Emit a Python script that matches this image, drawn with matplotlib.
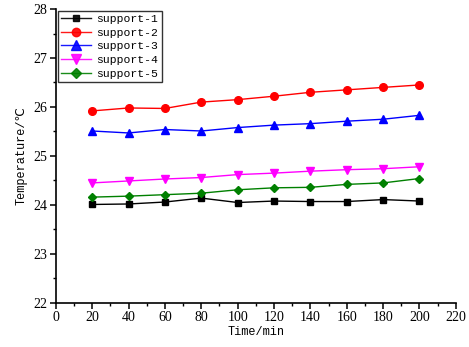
import matplotlib
matplotlib.use("Agg")
import matplotlib.pyplot as plt
from matplotlib.ticker import MultipleLocator

time = [20, 40, 60, 80, 100, 120, 140, 160, 180, 200]
support1 = [24.01, 24.02, 24.06, 24.14, 24.05, 24.08, 24.07, 24.07, 24.11, 24.08]
support2 = [25.92, 25.98, 25.97, 26.10, 26.15, 26.22, 26.30, 26.35, 26.40, 26.45]
support3 = [25.51, 25.47, 25.54, 25.51, 25.58, 25.63, 25.66, 25.71, 25.75, 25.83]
support4 = [24.45, 24.49, 24.53, 24.56, 24.62, 24.65, 24.69, 24.72, 24.74, 24.78]
support5 = [24.16, 24.18, 24.21, 24.24, 24.31, 24.35, 24.36, 24.42, 24.45, 24.54]
names = ["support-1", "support-2", "support-3", "support-4", "support-5"]

colors = ["black", "red", "blue", "magenta", "green"]
markers = ["s", "o", "^", "v", "D"]
sizes = [4.5, 5.5, 6, 6, 4.3]

mono = ["Liberation Mono", "DejaVu Sans"]
serif = "Liberation Serif"

fig = plt.figure(figsize=(4.69, 3.47), dpi=100)
ax = fig.add_axes([0.119, 0.127, 0.853, 0.847])

series = [support1, support2, support3, support4, support5]
for vals, name, c, m, s in zip(series, names, colors, markers, sizes):
    ax.plot(time, vals, color=c, marker=m, markersize=s, lw=1.0,
            markeredgecolor=c, label=name)

ax.set_xlim(0, 220)
ax.set_ylim(22, 28)
ax.xaxis.set_major_locator(MultipleLocator(20))
ax.xaxis.set_minor_locator(MultipleLocator(10))
ax.yaxis.set_major_locator(MultipleLocator(1))
ax.yaxis.set_minor_locator(MultipleLocator(0.5))
ax.spines["top"].set_visible(False)
ax.spines["right"].set_visible(False)
ax.spines["left"].set_linewidth(1.2)
ax.spines["bottom"].set_linewidth(1.2)
ax.tick_params(which="major", direction="out", length=4, width=1.1, pad=2)
ax.tick_params(which="minor", direction="out", length=2, width=1.0)
for lab in ax.get_xticklabels() + ax.get_yticklabels():
    lab.set_fontfamily(serif)
    lab.set_fontsize(10)

ax.set_xlabel("Time/min", family=mono, fontsize=8.6, labelpad=1)
ax.set_ylabel("Temperature/℃", family=mono, fontsize=8.6, labelpad=4)

leg = ax.legend(loc="upper left", prop={"family": mono, "size": 8.2},
                frameon=True, fancybox=False, edgecolor="black",
                borderaxespad=0.15, handlelength=2.6, labelspacing=0.32,
                borderpad=0.3, handletextpad=0.5, markerscale=1.1)
leg.get_frame().set_linewidth(1.0)
for h in leg.legend_handles:
    h.set_alpha(0.9)

fig.savefig("out.png", dpi=100)
